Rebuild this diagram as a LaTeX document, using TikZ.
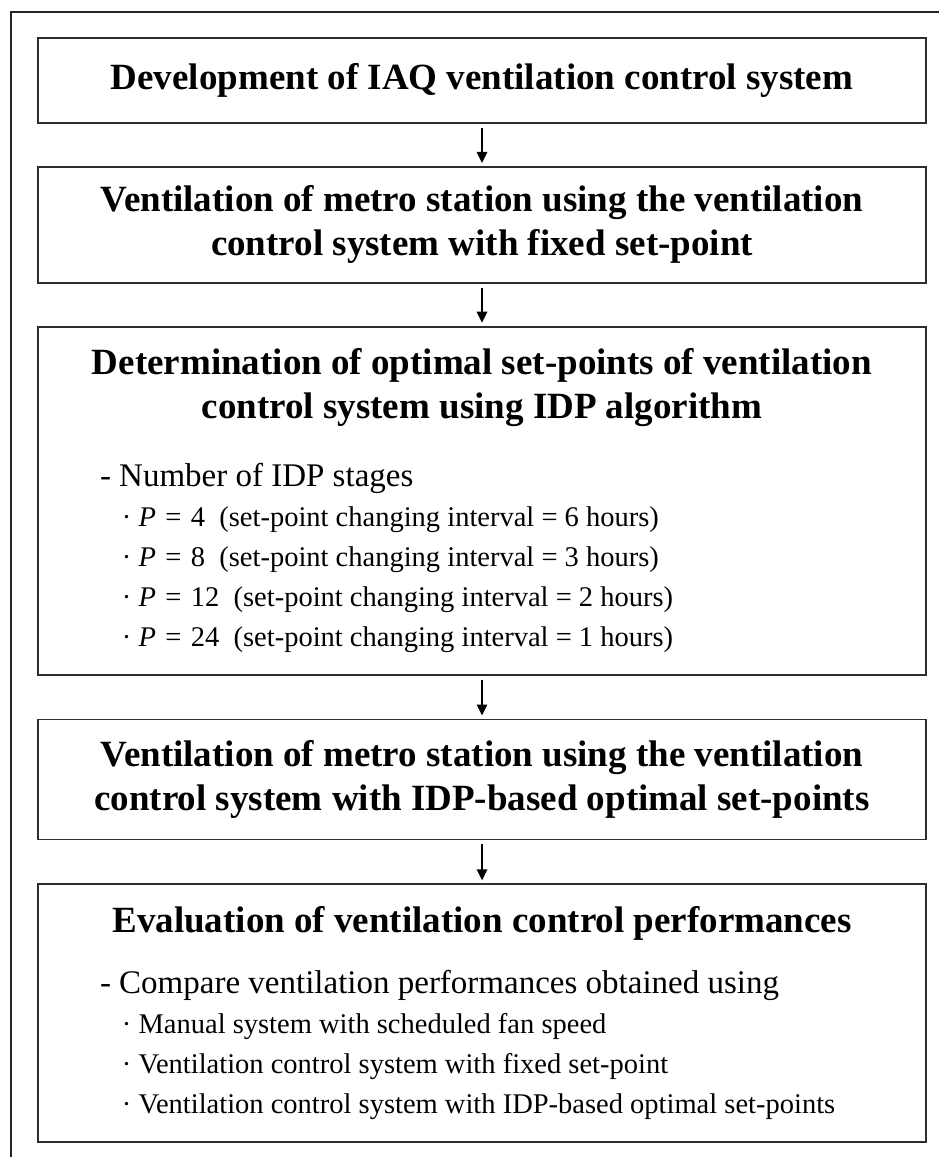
\documentclass[tikz,border=0pt]{standalone}
\usepackage{fontspec}
\setmainfont{Liberation Serif}
\usetikzlibrary{arrows.meta,positioning}
\definecolor{cframe}{RGB}{35,35,35}
\definecolor{cline}{RGB}{45,45,45}

\newcommand{\headfont}{\fontsize{37}{44}\selectfont\bfseries}
\newcommand{\itemfont}{\fontsize{33}{39}\selectfont\mdseries}
\newcommand{\subfont}{\fontsize{28.5}{40}\selectfont\mdseries}

\begin{document}
\begin{tikzpicture}[
    >=Triangle,
    node distance=42pt,
    stage/.style={
        rectangle,
        draw=cline,
        line width=1.8pt,
        text width=852pt,
        inner xsep=18pt,
        inner ysep=0pt,
        align=flush center,
        font=\headfont
    },
    stagelist/.style={
        align=flush left
    },
    arr/.style={
        line width=1.6pt,
        draw=black,
        shorten <=4pt,
        shorten >=3pt,
        arrows={-Triangle[length=11pt,width=10.5pt]}
    }
]
\useasboundingbox (0,0) rectangle (938pt,-1157pt);

% outer frame, runs off the right and bottom edges
\draw[cframe, line width=2.2pt] (11pt,-1170pt) -- (11pt,-12pt) -- (950pt,-12pt);

% Step 1
\node[stage, minimum height=85pt] (dev) at (482pt,-80.5pt) {%
    Development of IAQ ventilation control system};

% Step 2
\node[stage, minimum height=116pt, below=of dev] (fixed) {%
    Ventilation of metro station using the ventilation\\
    control system with fixed set-point};

% Step 3: IDP optimisation
\node[stage, stagelist, minimum height=348pt, below=of fixed] (idp) {%
    {\centering Determination of optimal set-points of ventilation\\
    control system using IDP algorithm\par}
    \vspace{29pt}
    {\itemfont\hspace*{44pt}- Number of IDP stages\par}
    {\subfont\hspace*{66pt}{·} \textit{P}\hspace{0.33em}=\hspace{0.33em}4\hspace{0.5em}(set-point changing interval = 6 hours)\par
    \hspace*{66pt}{·} \textit{P}\hspace{0.33em}=\hspace{0.33em}8\hspace{0.5em}(set-point changing interval = 3 hours)\par
    \hspace*{66pt}{·} \textit{P}\hspace{0.33em}=\hspace{0.33em}12\hspace{0.5em}(set-point changing interval = 2 hours)\par
    \hspace*{66pt}{·} \textit{P}\hspace{0.33em}=\hspace{0.33em}24\hspace{0.5em}(set-point changing interval = 1 hours)\par}
};

% Step 4
\node[stage, minimum height=120pt, below=43pt of idp] (optim) {%
    Ventilation of metro station using the ventilation\\
    control system with IDP-based optimal set-points};

% Step 5: evaluation
\node[stage, stagelist, minimum height=258pt, below=43pt of optim] (eval) {%
    {\centering Evaluation of ventilation control performances\par}
    \vspace{22pt}
    {\itemfont\hspace*{44pt}- Compare ventilation performances obtained using\par}
    {\subfont\hspace*{66pt}{·} Manual system with scheduled fan speed\par
    \hspace*{66pt}{·} Ventilation control system with fixed set-point\par
    \hspace*{66pt}{·} Ventilation control system with IDP-based optimal set-points\par}
};

% flow
\draw[arr] (dev) -- (fixed);
\draw[arr] (fixed) -- (idp);
\draw[arr] (idp) -- (optim);
\draw[arr] (optim) -- (eval);

\end{tikzpicture}
\end{document}
